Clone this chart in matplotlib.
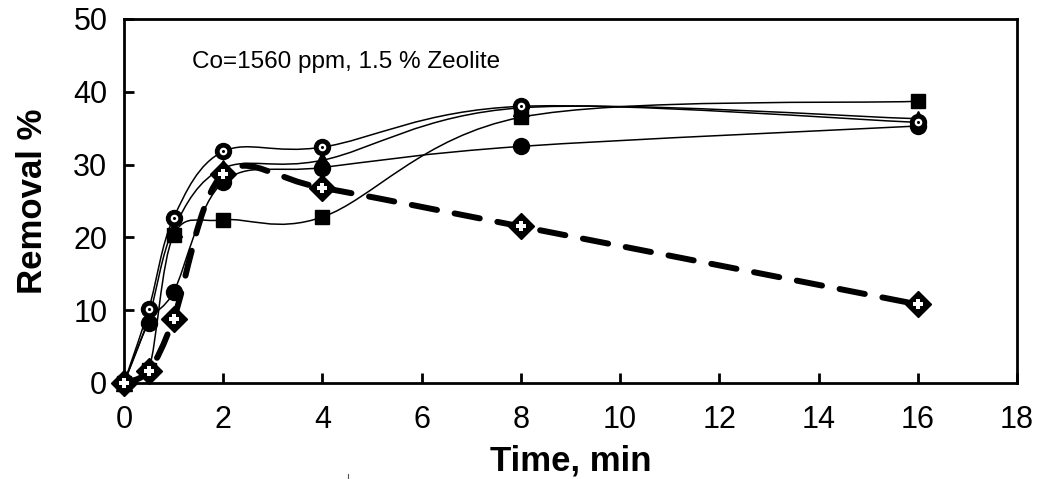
import numpy as np
import matplotlib
matplotlib.use("Agg")
import matplotlib.pyplot as plt
from matplotlib.path import Path
from matplotlib.patches import PathPatch
from matplotlib.lines import Line2D

plt.rcParams['font.family'] = ['Liberation Sans', 'DejaVu Sans']

time_min = [0, 0.5, 1, 2, 4, 8, 16]

# removal % for each run
removal_ring = [0, 10.2, 22.7, 31.8, 32.4, 38.0, 35.8]
removal_circle = [0, 8.3, 12.5, 27.6, 29.6, 32.5, 35.3]
removal_square = [0, 1.8, 20.3, 22.4, 22.8, 36.5, 38.7]
removal_triangle = [0, 9.0, 21.2, 29.5, 30.6, 37.8, 36.3]
removal_diamond = [0, 1.7, 8.8, 28.7, 26.8, 21.5, 10.8]

xticks = list(range(0, 19, 2))
yticks = list(range(0, 51, 10))
note = "Co=1560 ppm, 1.5 % Zeolite"

# rough pixel scale of the plot area, used to shape the smoothed curves
SX, SY = 893 / 18, 364 / 50


def smooth_path(x, y):
    # spreadsheet-style smoothed line: cubic bezier between each pair of points
    p = np.column_stack([np.asarray(x, float) * SX, np.asarray(y, float) * SY])
    n = len(p)
    verts = [p[0]]
    codes = [Path.MOVETO]
    for i in range(n - 1):
        p0 = p[i - 1] if i > 0 else p[i]
        p1, p2 = p[i], p[i + 1]
        p3 = p[i + 2] if i + 2 < n else p[i + 1]
        d12 = np.hypot(*(p2 - p1))
        d02 = np.hypot(*(p2 - p0))
        d13 = np.hypot(*(p3 - p1))
        f1 = 1 / 6
        f2 = 1 / 6
        if d02 > 0 and d02 / 6 > d12 / 2:
            f1 = d12 / (2 * d02)
        if d13 > 0 and d13 / 6 > d12 / 2:
            f2 = d12 / (2 * d13)
        c1 = p1 + f1 * (p2 - p0)
        c2 = p2 - f2 * (p3 - p1)
        verts += [c1, c2, p2]
        codes += [Path.CURVE4] * 3
    verts = np.array(verts) / [SX, SY]
    return Path(verts, codes)


fig = plt.figure(figsize=(10.45, 4.79), dpi=100)
ax = fig.add_axes([124 / 1045, 1 - 383 / 479, 893 / 1045, 364 / 479])

ax.set_xlim(0, 18)
ax.set_ylim(0, 50)

thin = dict(fill=False, edgecolor='black', linewidth=1.1, zorder=2)
for ys in [removal_triangle, removal_square, removal_circle, removal_ring]:
    ax.add_patch(PathPatch(smooth_path(time_min, ys), **thin))

dashed = PathPatch(smooth_path(time_min, removal_diamond), fill=False, edgecolor='black',
                   linewidth=4.3, linestyle=(0, (4.3, 3.0)), zorder=2.5)
dashed.set_capstyle('round')
ax.add_patch(dashed)

mk = dict(linestyle='none', clip_on=False)
ax.plot(time_min, removal_triangle, marker='^', ms=12, color='black', mec='black', zorder=3, **mk)
ax.plot(time_min, removal_square, marker='s', ms=10.5, color='black', mec='black', zorder=3.1, **mk)
ax.plot(time_min, removal_circle, marker='o', ms=11.5, color='black', mec='black', zorder=3.2, **mk)
ax.plot(time_min, removal_ring, marker='o', ms=11.5, color='black', mec='black', zorder=3.3, **mk)
ax.plot(time_min, removal_ring, marker='o', ms=5.5, color='white', mew=0, zorder=3.4, **mk)
ax.plot(time_min, removal_ring, marker='o', ms=2.2, color='black', mew=0, zorder=3.5, **mk)
ax.plot(time_min, removal_diamond, marker='D', ms=13, color='black', mec='black', zorder=3.6, **mk)
ax.plot(time_min, removal_diamond, marker='P', ms=7, color='white', mew=0, zorder=3.7, **mk)

ax.set_xticks(xticks)
ax.set_yticks(yticks)
ax.tick_params(direction='in', length=7, width=2, labelsize=22, color='black')
ax.tick_params(axis='x', pad=16)
ax.tick_params(axis='y', pad=12)
for s in ax.spines.values():
    s.set_linewidth(2)
    s.set_color('black')

ax.set_xlabel("Time, min", fontsize=25, fontweight='bold')
ax.set_ylabel("Removal %", fontsize=25, fontweight='bold')
ax.xaxis.set_label_coords(0.5, -0.168)
ax.yaxis.set_label_coords(-0.084, 0.5)

ax.text(0.076, 0.882, note, transform=ax.transAxes, fontsize=17.5, va='center', ha='left')

# small stray tick below the axis
fig.add_artist(Line2D([348 / 1045, 348 / 1045], [1 - 479 / 479, 1 - 474 / 479],
                      color='#555555', lw=0.8))

fig.savefig("out.png", dpi=100)
